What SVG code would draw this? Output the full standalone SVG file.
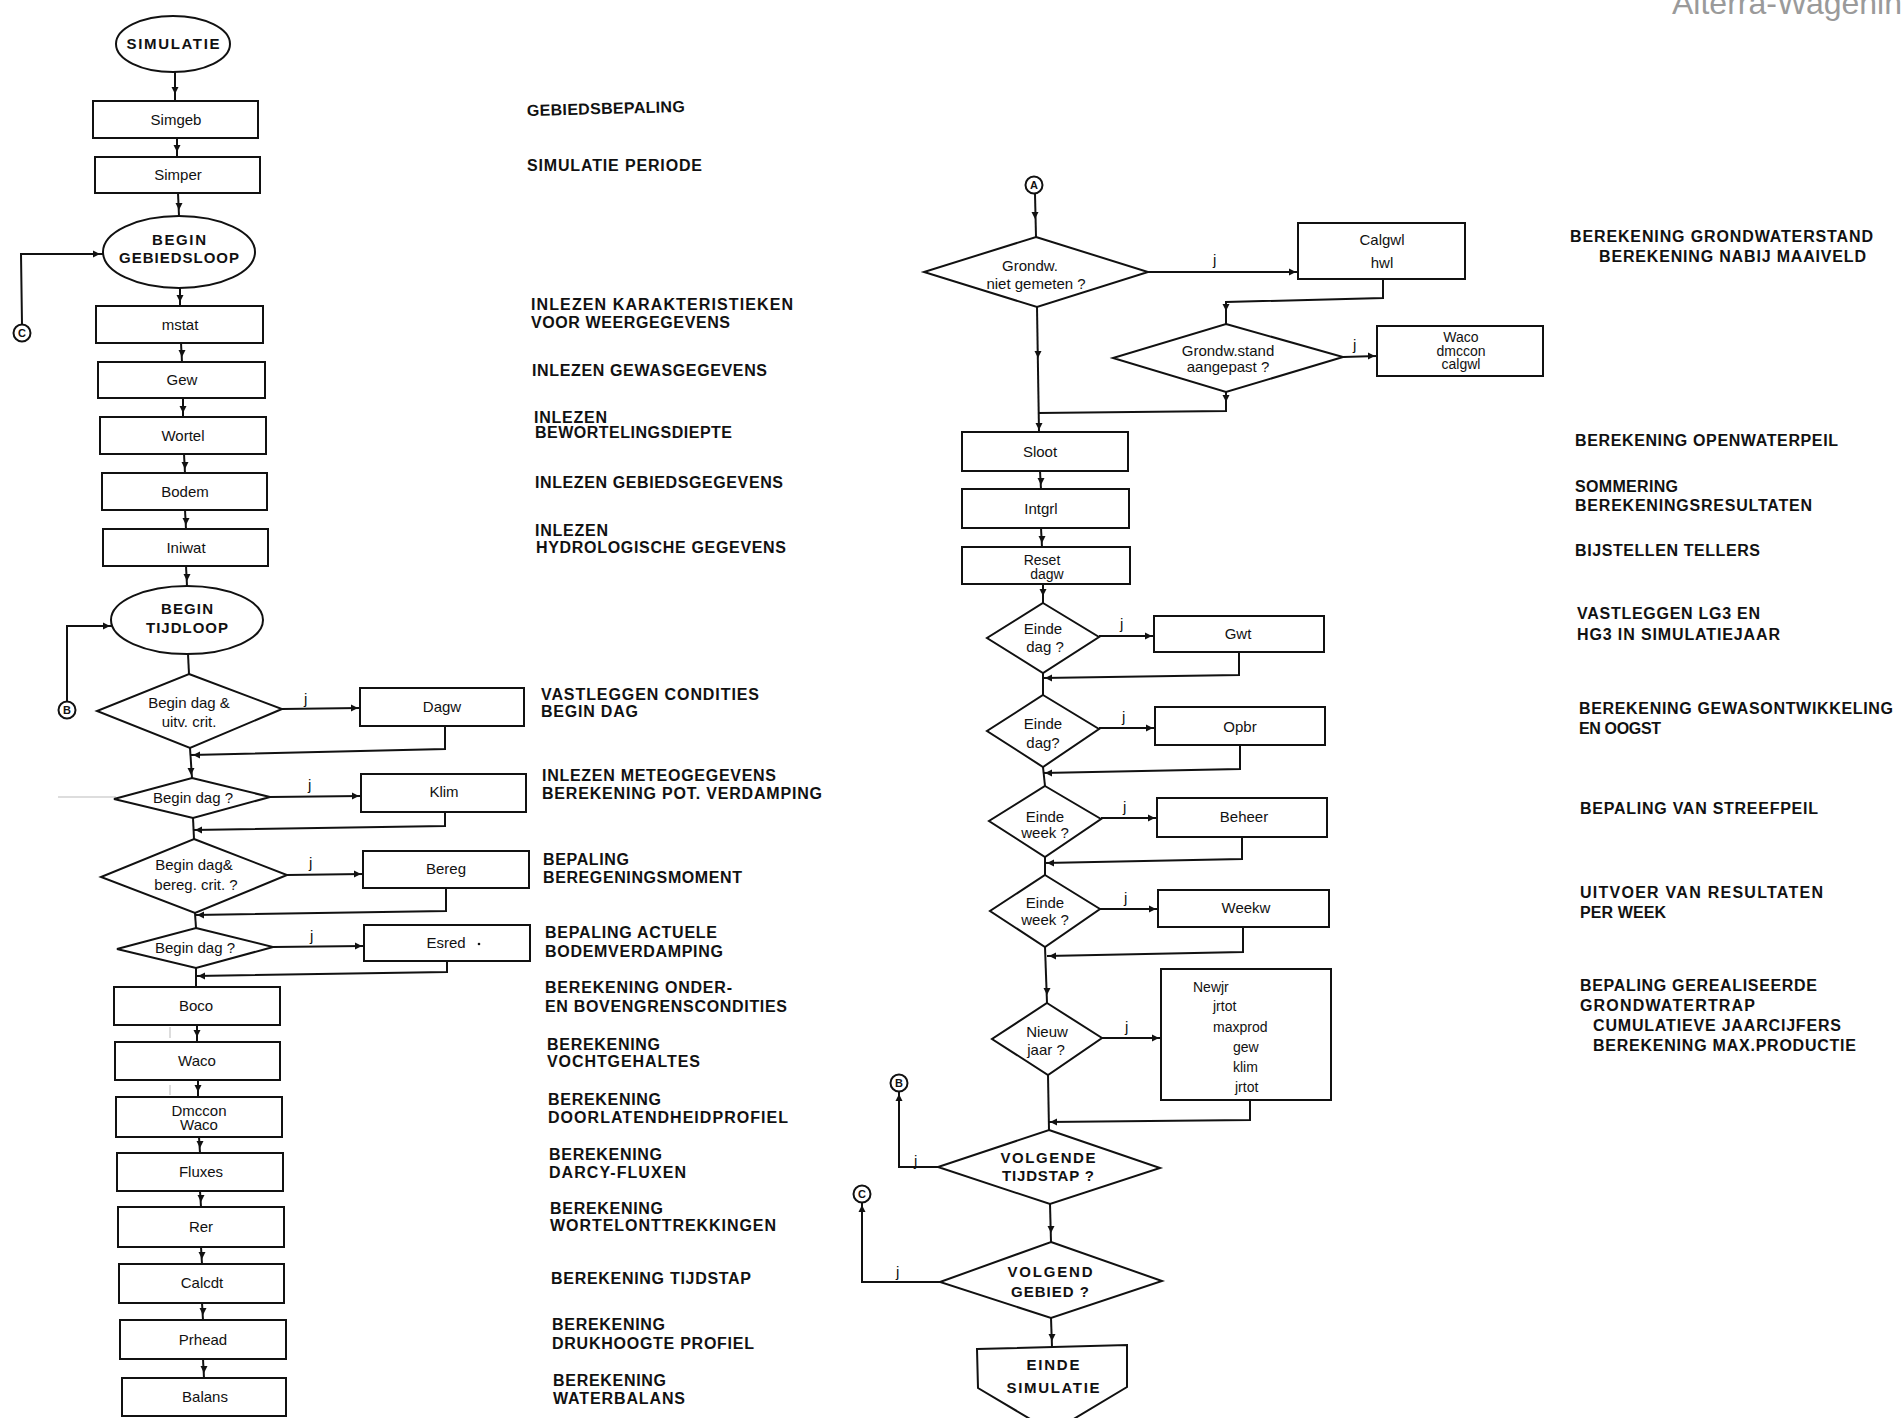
<svg xmlns="http://www.w3.org/2000/svg" xmlns:xlink="http://www.w3.org/1999/xlink" width="1903" height="1418" viewBox="0 0 1903 1418">
<style>
.ln{fill:none;stroke:#111;stroke-width:2;stroke-linejoin:miter}
.bx{fill:#fff;stroke:#111;stroke-width:2}
.ci{fill:#fff;stroke:#111;stroke-width:2}
.ar{fill:#111}
text{font-family:"Liberation Sans",Arial,sans-serif;fill:#111}
.lb{font-size:15px;text-anchor:middle}
.sm{font-size:14px;text-anchor:middle}
.st{font-size:14px;text-anchor:start}
.up{font-size:15px;font-weight:bold;text-anchor:middle}
.ds{font-size:16px;font-weight:bold}
.j{font-size:15px}
.cn{font-size:11px;font-weight:bold;text-anchor:middle}
.wm{font-size:32px;fill:#9a9a9a}
.gr{fill:none;stroke:#bbb;stroke-width:1}
</style>
<defs>
<path id="aD" d="M0,0 L-3.5,-7 L3.5,-7 Z"/>
<path id="aU" d="M0,0 L-3.5,7 L3.5,7 Z"/>
<path id="aR" d="M0,0 L-7,-3.5 L-7,3.5 Z"/>
<path id="aL" d="M0,0 L7,-3.5 L7,3.5 Z"/>
</defs>
<rect width="1903" height="1418" fill="#fff"/>
<text class="wm" x="1672" y="14">Alterra-Wagenin</text>

<!-- scan artifacts -->
<g id="artifacts">
<path class="gr" d="M58 797 L116 797"/>
<path class="gr" d="M170 992 L170 1020 M170 1027 L170 1038 M170 1043 L170 1075 M170 1085 L170 1095"/>
</g>

<!-- connectors -->
<g id="connectors">
<path class="ln" d="M175 72 L175 101"/>
<path class="ln" d="M177 138 L177 157"/>
<path class="ln" d="M178 193 L179 216"/>
<path class="ln" d="M22 324 L21 254 L103 254"/>
<path class="ln" d="M180 288 L180 306"/>
<path class="ln" d="M181 343 L182 362"/>
<path class="ln" d="M183 398 L183 417"/>
<path class="ln" d="M184 454 L185 473"/>
<path class="ln" d="M185 510 L186 529"/>
<path class="ln" d="M186 566 L187 586"/>
<path class="ln" d="M67 701 L67 626 L112 626"/>
<path class="ln" d="M188 654 L189 674"/>
<path class="ln" d="M282 709 L360 708"/>
<path class="ln" d="M445 726 L445 749 L191 755"/>
<path class="ln" d="M190 748 L192 778"/>
<path class="ln" d="M270 797 L361 796"/>
<path class="ln" d="M445 812 L445 826 L193 830"/>
<path class="ln" d="M193 818 L194 839"/>
<path class="ln" d="M287 875 L363 874"/>
<path class="ln" d="M446 888 L446 911 L195 915"/>
<path class="ln" d="M195 913 L196 928"/>
<path class="ln" d="M273 947 L364 946"/>
<path class="ln" d="M447 961 L447 972 L196 976"/>
<path class="ln" d="M196 968 L196 987"/>
<path class="ln" d="M197 1025 L197 1042"/>
<path class="ln" d="M198 1080 L198 1097"/>
<path class="ln" d="M199 1137 L200 1153"/>
<path class="ln" d="M200 1191 L201 1207"/>
<path class="ln" d="M201 1247 L202 1264"/>
<path class="ln" d="M202 1303 L203 1320"/>
<path class="ln" d="M203 1359 L204 1378"/>

<path class="ln" d="M1035 194 L1036 237"/>
<path class="ln" d="M1148 272 L1298 272"/>
<path class="ln" d="M1383 279 L1383 298 L1226 302 L1226 324"/>
<path class="ln" d="M1343 357 L1377 356"/>
<path class="ln" d="M1226 392 L1226 411 L1038 413"/>
<path class="ln" d="M1037 307 L1039 432"/>
<path class="ln" d="M1040 471 L1041 489"/>
<path class="ln" d="M1041 528 L1042 547"/>
<path class="ln" d="M1043 584 L1043 603"/>
<path class="ln" d="M1099 636 L1154 636"/>
<path class="ln" d="M1239 652 L1239 675 L1043 678"/>
<path class="ln" d="M1043 673 L1043 695"/>
<path class="ln" d="M1099 728 L1155 728"/>
<path class="ln" d="M1240 745 L1240 769 L1043 773"/>
<path class="ln" d="M1043 767 L1045 786"/>
<path class="ln" d="M1101 818 L1157 818"/>
<path class="ln" d="M1242 837 L1242 859 L1045 863"/>
<path class="ln" d="M1045 857 L1045 875"/>
<path class="ln" d="M1100 909 L1158 909"/>
<path class="ln" d="M1243 927 L1243 952 L1047 956"/>
<path class="ln" d="M1045 947 L1047 1003"/>
<path class="ln" d="M1102 1038 L1161 1038"/>
<path class="ln" d="M1250 1100 L1250 1120 L1048 1122"/>
<path class="ln" d="M1048 1075 L1049 1130"/>
<path class="ln" d="M938 1167 L899 1167 L899 1092"/>
<path class="ln" d="M1050 1204 L1051 1242"/>
<path class="ln" d="M940 1282 L862 1282 L862 1203"/>
<path class="ln" d="M1051 1318 L1052 1347"/>

<g class="ar">
<use xlink:href="#aD" x="175" y="94"/>
<use xlink:href="#aD" x="177" y="152"/>
<use xlink:href="#aD" x="179" y="210"/>
<use xlink:href="#aR" x="100" y="254"/>
<use xlink:href="#aD" x="180" y="302"/>
<use xlink:href="#aD" x="182" y="357"/>
<use xlink:href="#aD" x="183" y="413"/>
<use xlink:href="#aD" x="185" y="469"/>
<use xlink:href="#aD" x="186" y="525"/>
<use xlink:href="#aD" x="187" y="581"/>
<use xlink:href="#aR" x="110" y="626"/>
<use xlink:href="#aR" x="358" y="708"/>
<use xlink:href="#aL" x="193" y="755"/>
<use xlink:href="#aD" x="191" y="775"/>
<use xlink:href="#aR" x="359" y="796"/>
<use xlink:href="#aL" x="195" y="830"/>
<use xlink:href="#aR" x="361" y="874"/>
<use xlink:href="#aL" x="197" y="915"/>
<use xlink:href="#aR" x="362" y="946"/>
<use xlink:href="#aL" x="198" y="976"/>
<use xlink:href="#aD" x="197" y="1037"/>
<use xlink:href="#aD" x="198" y="1092"/>
<use xlink:href="#aD" x="200" y="1148"/>
<use xlink:href="#aD" x="201" y="1202"/>
<use xlink:href="#aD" x="202" y="1259"/>
<use xlink:href="#aD" x="203" y="1315"/>
<use xlink:href="#aD" x="204" y="1373"/>

<use xlink:href="#aD" x="1035" y="219"/>
<use xlink:href="#aR" x="1296" y="272"/>
<use xlink:href="#aD" x="1226" y="311"/>
<use xlink:href="#aR" x="1375" y="356"/>
<use xlink:href="#aD" x="1226" y="402"/>
<use xlink:href="#aD" x="1038" y="358"/>
<use xlink:href="#aD" x="1039" y="430"/>
<use xlink:href="#aD" x="1041" y="485"/>
<use xlink:href="#aD" x="1042" y="543"/>
<use xlink:href="#aD" x="1043" y="596"/>
<use xlink:href="#aR" x="1152" y="636"/>
<use xlink:href="#aL" x="1045" y="678"/>
<use xlink:href="#aR" x="1153" y="728"/>
<use xlink:href="#aL" x="1045" y="773"/>
<use xlink:href="#aR" x="1155" y="818"/>
<use xlink:href="#aL" x="1047" y="863"/>
<use xlink:href="#aR" x="1156" y="909"/>
<use xlink:href="#aL" x="1049" y="956"/>
<use xlink:href="#aD" x="1047" y="995"/>
<use xlink:href="#aR" x="1159" y="1038"/>
<use xlink:href="#aL" x="1050" y="1122"/>
<use xlink:href="#aU" x="899" y="1094"/>
<use xlink:href="#aD" x="1051" y="1233"/>
<use xlink:href="#aU" x="862" y="1205"/>
<use xlink:href="#aD" x="1052" y="1341"/>
</g>

<text class="j" x="304" y="704">j</text>
<text class="j" x="308" y="790">j</text>
<text class="j" x="309" y="868">j</text>
<text class="j" x="310" y="941">j</text>
<text class="j" x="1213" y="265">j</text>
<text class="j" x="1353" y="350">j</text>
<text class="j" x="1120" y="629">j</text>
<text class="j" x="1122" y="722">j</text>
<text class="j" x="1123" y="812">j</text>
<text class="j" x="1124" y="903">j</text>
<text class="j" x="1125" y="1032">j</text>
<text class="j" x="914" y="1166">j</text>
<text class="j" x="896" y="1277">j</text>
</g>

<!-- left column nodes -->
<g id="simulatie"><ellipse class="bx" cx="173" cy="44" rx="57" ry="28"/><text class="up" x="173" y="49" textLength="93">SIMULATIE</text></g>
<g id="simgeb"><rect class="bx" x="93" y="101" width="165" height="37"/><text class="lb" x="176" y="125">Simgeb</text></g>
<g id="simper"><rect class="bx" x="95" y="157" width="165" height="36"/><text class="lb" x="178" y="180">Simper</text></g>
<g id="begin-gebiedsloop"><ellipse class="bx" cx="179" cy="252" rx="76" ry="36"/><text class="up" x="179" y="245" textLength="54">BEGIN</text><text class="up" x="179" y="263" textLength="120">GEBIEDSLOOP</text></g>
<g id="conn-c-left"><circle class="ci" cx="22" cy="333" r="8.5"/><text class="cn" x="22" y="337">C</text></g>
<g id="mstat"><rect class="bx" x="96" y="306" width="167" height="37"/><text class="lb" x="180" y="330">mstat</text></g>
<g id="gew"><rect class="bx" x="98" y="362" width="167" height="36"/><text class="lb" x="182" y="385">Gew</text></g>
<g id="wortel"><rect class="bx" x="100" y="417" width="166" height="37"/><text class="lb" x="183" y="441">Wortel</text></g>
<g id="bodem"><rect class="bx" x="102" y="473" width="165" height="37"/><text class="lb" x="185" y="497">Bodem</text></g>
<g id="iniwat"><rect class="bx" x="103" y="529" width="165" height="37"/><text class="lb" x="186" y="553">Iniwat</text></g>
<g id="begin-tijdloop"><ellipse class="bx" cx="187" cy="620" rx="76" ry="34"/><text class="up" x="187" y="614" textLength="52">BEGIN</text><text class="up" x="187" y="633" textLength="82">TIJDLOOP</text></g>
<g id="conn-b-left"><circle class="ci" cx="67" cy="710" r="8.5"/><text class="cn" x="67" y="714">B</text></g>
<g id="d-begin-dag-uitv"><polygon class="bx" points="189,674 282,709 190,748 97,711"/><text class="lb" x="189" y="708">Begin dag &amp;</text><text class="lb" x="189" y="727">uitv. crit.</text></g>
<g id="dagw"><rect class="bx" x="360" y="688" width="164" height="38"/><text class="lb" x="442" y="712">Dagw</text></g>
<g id="d-begin-dag-1"><polygon class="bx" points="192,778 270,797 193,818 114,799"/><text class="lb" x="193" y="803">Begin dag ?</text></g>
<g id="klim"><rect class="bx" x="361" y="774" width="165" height="38"/><text class="lb" x="444" y="797">Klim</text></g>
<g id="d-begin-dag-bereg"><polygon class="bx" points="194,839 287,875 195,913 101,877"/><text class="lb" x="194" y="870">Begin dag&amp;</text><text class="lb" x="196" y="890">bereg. crit. ?</text></g>
<g id="bereg"><rect class="bx" x="363" y="851" width="166" height="37"/><text class="lb" x="446" y="874">Bereg</text></g>
<g id="d-begin-dag-2"><polygon class="bx" points="196,928 273,947 196,968 117,949"/><text class="lb" x="195" y="953">Begin dag ?</text></g>
<g id="esred"><rect class="bx" x="364" y="925" width="166" height="36"/><text class="lb" x="446" y="948">Esred</text><circle cx="479" cy="944" r="1.3" fill="#111"/></g>
<g id="boco"><rect class="bx" x="114" y="987" width="166" height="38"/><text class="lb" x="196" y="1011">Boco</text></g>
<g id="waco"><rect class="bx" x="115" y="1042" width="165" height="38"/><text class="lb" x="197" y="1066">Waco</text></g>
<g id="dmccon-waco"><rect class="bx" x="116" y="1097" width="166" height="40"/><text class="lb" x="199" y="1116">Dmccon</text><text class="lb" x="199" y="1130">Waco</text></g>
<g id="fluxes"><rect class="bx" x="117" y="1153" width="166" height="38"/><text class="lb" x="201" y="1177">Fluxes</text></g>
<g id="rer"><rect class="bx" x="118" y="1207" width="166" height="40"/><text class="lb" x="201" y="1232">Rer</text></g>
<g id="calcdt"><rect class="bx" x="119" y="1264" width="165" height="39"/><text class="lb" x="202" y="1288">Calcdt</text></g>
<g id="prhead"><rect class="bx" x="120" y="1320" width="166" height="39"/><text class="lb" x="203" y="1345">Prhead</text></g>
<g id="balans"><rect class="bx" x="122" y="1378" width="164" height="38"/><text class="lb" x="205" y="1402">Balans</text></g>

<!-- right column nodes -->
<g id="conn-a"><circle class="ci" cx="1034" cy="185" r="8.5"/><text class="cn" x="1034" y="189">A</text></g>
<g id="d-grondw-niet-gemeten"><polygon class="bx" points="1036,237 1148,272 1037,307 924,272"/><text class="lb" x="1030" y="271" font-size="14">Grondw.</text><text class="lb" x="1036" y="289" font-size="14">niet gemeten ?</text></g>
<g id="calgwl-hwl"><rect class="bx" x="1298" y="223" width="167" height="56"/><text class="lb" x="1382" y="245" font-size="14">Calgwl</text><text class="lb" x="1382" y="268" font-size="14">hwl</text></g>
<g id="d-grondw-stand"><polygon class="bx" points="1226,324 1343,357 1226,392 1113,358"/><text class="lb" x="1228" y="356" font-size="14">Grondw.stand</text><text class="lb" x="1228" y="372" font-size="14">aangepast ?</text></g>
<g id="waco-dmccon-calgwl"><rect class="bx" x="1377" y="326" width="166" height="50"/><text class="sm" x="1461" y="342">Waco</text><text class="sm" x="1461" y="356">dmccon</text><text class="sm" x="1461" y="369">calgwl</text></g>
<g id="sloot"><rect class="bx" x="962" y="432" width="166" height="39"/><text class="lb" x="1040" y="457">Sloot</text></g>
<g id="intgrl"><rect class="bx" x="962" y="489" width="167" height="39"/><text class="lb" x="1041" y="514">Intgrl</text></g>
<g id="reset-dagw"><rect class="bx" x="962" y="547" width="168" height="37"/><text class="sm" x="1042" y="565">Reset</text><text class="sm" x="1047" y="579">dagw</text></g>
<g id="d-einde-dag-1"><polygon class="bx" points="1043,603 1099,637 1043,673 987,638"/><text class="lb" x="1043" y="634">Einde</text><text class="lb" x="1045" y="652">dag ?</text></g>
<g id="gwt"><rect class="bx" x="1154" y="616" width="170" height="36"/><text class="lb" x="1238" y="639">Gwt</text></g>
<g id="d-einde-dag-2"><polygon class="bx" points="1043,695 1099,729 1043,767 987,731"/><text class="lb" x="1043" y="729">Einde</text><text class="lb" x="1043" y="748">dag?</text></g>
<g id="opbr"><rect class="bx" x="1155" y="707" width="170" height="38"/><text class="lb" x="1240" y="732">Opbr</text></g>
<g id="d-einde-week-1"><polygon class="bx" points="1045,786 1101,819 1045,857 989,821"/><text class="lb" x="1045" y="822">Einde</text><text class="lb" x="1045" y="838">week ?</text></g>
<g id="beheer"><rect class="bx" x="1157" y="798" width="170" height="39"/><text class="lb" x="1244" y="822">Beheer</text></g>
<g id="d-einde-week-2"><polygon class="bx" points="1045,875 1100,909 1045,947 990,911"/><text class="lb" x="1045" y="908">Einde</text><text class="lb" x="1045" y="925">week ?</text></g>
<g id="weekw"><rect class="bx" x="1158" y="890" width="171" height="37"/><text class="lb" x="1246" y="913">Weekw</text></g>
<g id="d-nieuw-jaar"><polygon class="bx" points="1047,1003 1102,1038 1048,1075 992,1039"/><text class="lb" x="1047" y="1037">Nieuw</text><text class="lb" x="1046" y="1055">jaar ?</text></g>
<g id="newjr-box"><rect class="bx" x="1161" y="969" width="170" height="131"/><text class="st" x="1193" y="992">Newjr</text><text class="st" x="1213" y="1011">jrtot</text><text class="st" x="1213" y="1032">maxprod</text><text class="st" x="1233" y="1052">gew</text><text class="st" x="1233" y="1072">klim</text><text class="st" x="1235" y="1092">jrtot</text></g>
<g id="conn-b-right"><circle class="ci" cx="899" cy="1083" r="8.5"/><text class="cn" x="899" y="1087">B</text></g>
<g id="d-volgende-tijdstap"><polygon class="bx" points="1049,1130 1160,1168 1050,1204 938,1167"/><text class="up" x="1048" y="1163" textLength="95">VOLGENDE</text><text class="up" x="1048" y="1181" textLength="92">TIJDSTAP ?</text></g>
<g id="conn-c-right"><circle class="ci" cx="862" cy="1194" r="8.5"/><text class="cn" x="862" y="1198">C</text></g>
<g id="d-volgend-gebied"><polygon class="bx" points="1051,1242 1162,1281 1051,1318 940,1282"/><text class="up" x="1050" y="1277" textLength="85">VOLGEND</text><text class="up" x="1050" y="1297" textLength="78">GEBIED ?</text></g>
<g id="einde-simulatie"><polygon class="bx" points="977,1349 1127,1345 1127,1387 1052,1432 978,1388"/><text class="up" x="1053" y="1370" textLength="53">EINDE</text><text class="up" x="1053" y="1393" textLength="93">SIMULATIE</text></g>

<!-- descriptions middle -->
<g id="desc-middle" class="ds">
<text x="527" y="116" textLength="158" transform="rotate(-1.5 527 116)">GEBIEDSBEPALING</text>
<text x="527" y="171" textLength="175">SIMULATIE PERIODE</text>
<text x="531" y="310" textLength="262">INLEZEN KARAKTERISTIEKEN</text>
<text x="531" y="328" textLength="199">VOOR WEERGEGEVENS</text>
<text x="532" y="376" textLength="235">INLEZEN GEWASGEGEVENS</text>
<text x="534" y="423" textLength="73">INLEZEN</text>
<text x="535" y="438" textLength="197">BEWORTELINGSDIEPTE</text>
<text x="535" y="488" textLength="248">INLEZEN GEBIEDSGEGEVENS</text>
<text x="535" y="536" textLength="73">INLEZEN</text>
<text x="536" y="553" textLength="250">HYDROLOGISCHE GEGEVENS</text>
<text x="541" y="700" textLength="218">VASTLEGGEN CONDITIES</text>
<text x="541" y="717" textLength="97">BEGIN DAG</text>
<text x="542" y="781" textLength="234">INLEZEN METEOGEGEVENS</text>
<text x="542" y="799" textLength="280">BEREKENING POT. VERDAMPING</text>
<text x="543" y="865" textLength="86">BEPALING</text>
<text x="543" y="883" textLength="199">BEREGENINGSMOMENT</text>
<text x="545" y="938" textLength="172">BEPALING ACTUELE</text>
<text x="545" y="957" textLength="178">BODEMVERDAMPING</text>
<text x="545" y="993" textLength="187">BEREKENING ONDER-</text>
<text x="545" y="1012" textLength="242">EN BOVENGRENSCONDITIES</text>
<text x="547" y="1050" textLength="113">BEREKENING</text>
<text x="547" y="1067" textLength="153">VOCHTGEHALTES</text>
<text x="548" y="1105" textLength="113">BEREKENING</text>
<text x="548" y="1123" textLength="240">DOORLATENDHEIDPROFIEL</text>
<text x="549" y="1160" textLength="113">BEREKENING</text>
<text x="549" y="1178" textLength="137">DARCY-FLUXEN</text>
<text x="550" y="1214" textLength="113">BEREKENING</text>
<text x="550" y="1231" textLength="226">WORTELONTTREKKINGEN</text>
<text x="551" y="1284" textLength="200">BEREKENING TIJDSTAP</text>
<text x="552" y="1330" textLength="113">BEREKENING</text>
<text x="552" y="1349" textLength="202">DRUKHOOGTE PROFIEL</text>
<text x="553" y="1386" textLength="113">BEREKENING</text>
<text x="553" y="1404" textLength="132">WATERBALANS</text>
</g>

<!-- descriptions right -->
<g id="desc-right" class="ds">
<text x="1570" y="242" textLength="303">BEREKENING GRONDWATERSTAND</text>
<text x="1599" y="262" textLength="267">BEREKENING NABIJ MAAIVELD</text>
<text x="1575" y="446" textLength="263">BEREKENING OPENWATERPEIL</text>
<text x="1575" y="492" textLength="103">SOMMERING</text>
<text x="1575" y="511" textLength="237">BEREKENINGSRESULTATEN</text>
<text x="1575" y="556" textLength="185">BIJSTELLEN TELLERS</text>
<text x="1577" y="619" textLength="183">VASTLEGGEN LG3 EN</text>
<text x="1577" y="640" textLength="203">HG3 IN SIMULATIEJAAR</text>
<text x="1579" y="714" textLength="314">BEREKENING GEWASONTWIKKELING</text>
<text x="1579" y="734" textLength="82">EN OOGST</text>
<text x="1580" y="814" textLength="238">BEPALING VAN STREEFPEIL</text>
<text x="1580" y="898" textLength="243">UITVOER VAN RESULTATEN</text>
<text x="1580" y="918" textLength="86">PER WEEK</text>
<text x="1580" y="991" textLength="237">BEPALING GEREALISEERDE</text>
<text x="1580" y="1011" textLength="175">GRONDWATERTRAP</text>
<text x="1593" y="1031" textLength="248">CUMULATIEVE JAARCIJFERS</text>
<text x="1593" y="1051" textLength="263">BEREKENING MAX.PRODUCTIE</text>
</g>
</svg>
